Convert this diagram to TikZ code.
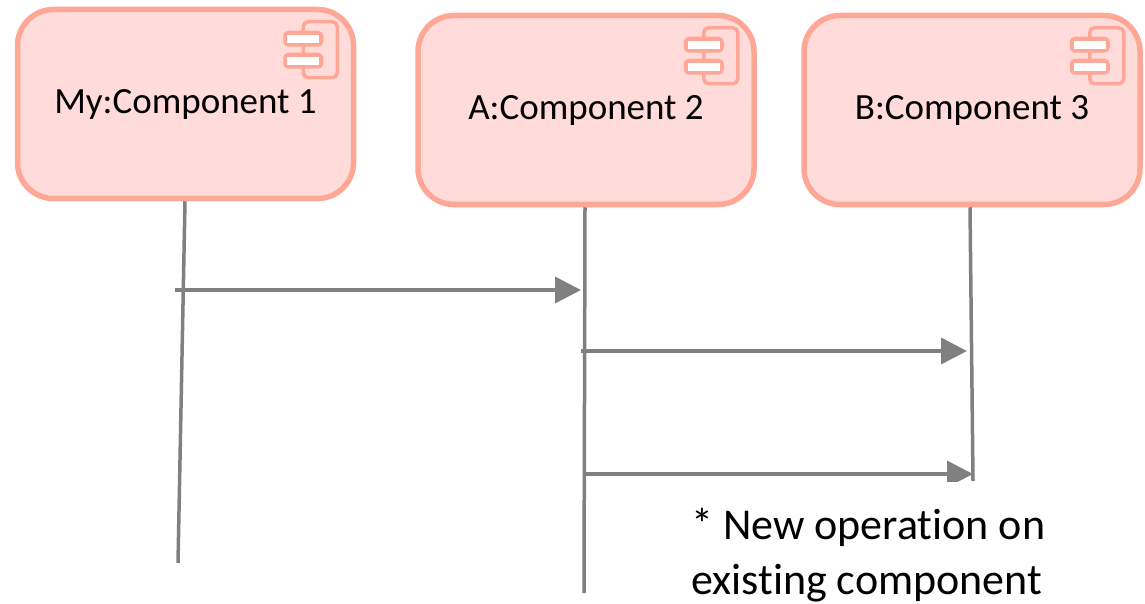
\documentclass[tikz,border=0pt]{standalone}
\usepackage{fontspec}
\setmainfont[RawFeature=-liga]{Carlito}
\usetikzlibrary{arrows.meta}
\definecolor{boxline}{HTML}{FFA796}
\definecolor{boxfill}{HTML}{FFDCDA}
\definecolor{wire}{HTML}{808080}
\tikzset{
  x=1pt,y=-1pt,
  compbox/.style={draw=boxline,fill=boxfill,line width=5.5pt,rounded corners=36pt,
    minimum width=336pt,minimum height=189pt,inner sep=0pt,font=\fontsize{37}{44}\selectfont,text=black},
  lifeline/.style={draw=wire,line width=3.5pt},
  message/.style={draw=wire,line width=3.5pt,-{Triangle[length=26pt,width=26pt,fill=wire]}},
  iconline/.style={draw=boxline,line width=3.5pt,rounded corners=5pt},
  iconslot/.style={fill=white},
  pics/compicon/.style={code={
    \draw[iconline] (-53,15) rectangle (-19,71);
    \fill[boxline,rounded corners=5pt] (-73,24) rectangle (-33,40);
    \fill[boxline,rounded corners=5pt] (-73,46) rectangle (-33,62);
    \fill[iconslot] (-69,28) rectangle (-37,36);
    \fill[iconslot] (-69,50) rectangle (-37,58);
  }}
}
\begin{document}
\begin{tikzpicture}
\useasboundingbox (0,0) rectangle (1145,604);
\node[compbox] (c1) at (185.5,104) {My:Component 1};
\node[compbox] (c2) at (586,110) {A:Component 2};
\node[compbox] (c3) at (972,110) {B:Component 3};
\pic at (c1.north east) {compicon};
\pic at (c2.north east) {compicon};
\pic at (c3.north east) {compicon};
\coordinate (e1) at (178,563);
\coordinate (e2) at (584,593);
\coordinate (e3) at (973,481);
\coordinate (a1s) at (175,290);
\coordinate (a1e) at (581,290);
\coordinate (a2s) at (581,351);
\coordinate (a2e) at (967,351);
\coordinate (a3s) at (586,474);
\coordinate (a3e) at (973,474);
\draw[lifeline] (c1.south -| 185,0) -- (e1);
\draw[lifeline] (c2.south -| 585,0) -- (e2);
\draw[lifeline] (c3.south -| 970,0) -- (e3);
\draw[message] (a1s) -- (a1e);
\draw[message] (a2s) -- (a2e);
\begin{scope}
\clip (500,400) rectangle (1145,481);
\draw[message] (a3s) -- (a3e);
\end{scope}
\node[anchor=base west,inner sep=0pt,font=\fontsize{44}{56}\selectfont] (note1) at (691,539) {* New operation on};
\node[anchor=base west,inner sep=0pt,font=\fontsize{44}{56}\selectfont] (note2) at (691,594) {existing component};
\end{tikzpicture}
\end{document}
